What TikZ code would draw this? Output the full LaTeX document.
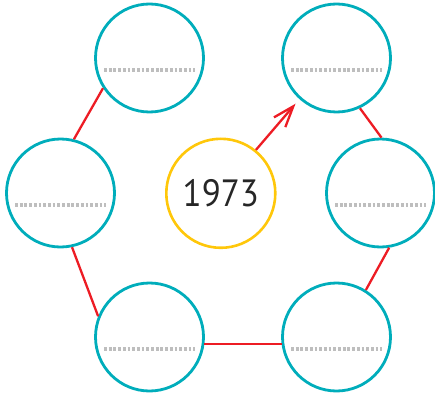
\documentclass[tikz,border=0pt]{standalone}
\usepackage{fontspec}
\setmainfont{PT Sans}
\usetikzlibrary{arrows.meta}
\definecolor{teal1}{RGB}{0,173,187}
\definecolor{red1}{RGB}{237,28,36}
\definecolor{yel1}{RGB}{255,199,10}
\definecolor{dotgray}{RGB}{190,190,190}
\tikzset{
  blank/.style={circle, draw=teal1, line width=2.8pt, minimum size=108pt, inner sep=0pt,
    path picture={\draw[dotgray, line width=3.2pt, dash pattern=on 2.8pt off 1.9pt]
      ([xshift=-45.5pt,yshift=-12pt]path picture bounding box.center) --
      ([xshift=45.5pt,yshift=-12pt]path picture bounding box.center);}},
  yearbox/.style={circle, draw=yel1, line width=2.6pt, minimum size=109pt, inner sep=0pt,
    font=\fontsize{38}{40}\selectfont, text=black!85},
  link/.style={draw=red1, line width=2.3pt},
}
\begin{document}
\begin{tikzpicture}[x=1pt,y=-1pt]
\useasboundingbox (0,0) rectangle (435,398);
\node[blank] (tl) at (149.5,58) {};
\node[blank] (tr) at (336.5,58) {};
\node[blank] (l) at (60.5,193) {};
\node[blank] (r) at (380.5,193) {};
\node[blank] (bl) at (149.5,337) {};
\node[blank] (br) at (336.5,337) {};
\node[yearbox] (c) at (220.8,193.3) {\scalebox{0.92}[1]{1973}};
\draw[link] (tl.213) -- (l.76);
\draw[link] (l.282) -- (bl.158);
\draw[link] (bl.353) -- (br.187);
\draw[link] (br.58) -- (r.279);
\draw[link] (r.89) -- (tr.295);
\draw[link, -{Straight Barb[length=21pt,width=15pt,line width=2.3pt]}, shorten >=6pt] (c.51) -- (tr.228);
\end{tikzpicture}
\end{document}
